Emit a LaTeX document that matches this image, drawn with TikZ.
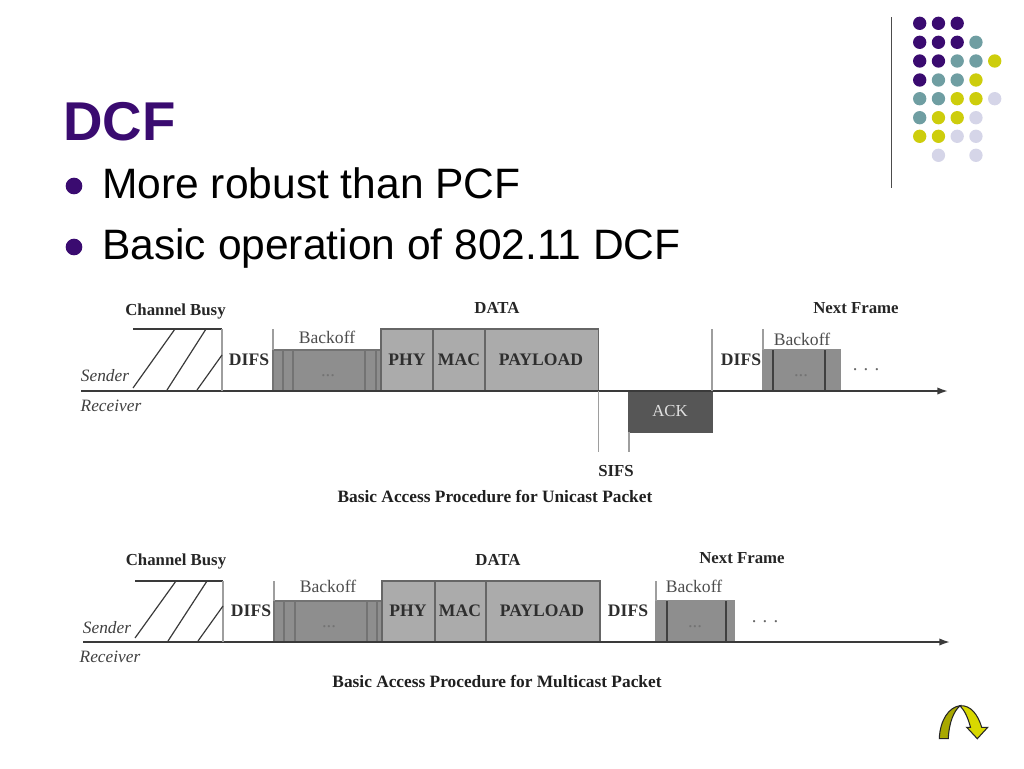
\documentclass[tikz,border=0pt]{standalone}
\usepackage{fontspec}
\setmainfont{Liberation Serif}
\newfontfamily\slidesans{Liberation Sans}
\definecolor{dpurple}{HTML}{3A0B70}
\definecolor{dteal}{HTML}{6F9EA2}
\definecolor{dyellow}{HTML}{CDCD0C}
\definecolor{dlav}{HTML}{D5D5E8}
\definecolor{lightcell}{HTML}{ABABAB}
\definecolor{darkcell}{HTML}{8E8E8E}
\definecolor{ackcell}{HTML}{565656}
\definecolor{inkline}{HTML}{3A3A3A}
\definecolor{iconleft}{HTML}{A8A800}
\definecolor{iconright}{HTML}{D8D800}
\usetikzlibrary{arrows.meta}
\tikzset{
  celltext/.style={font=\bfseries\fontsize{13.2}{15}\selectfont,text=black!82,inner sep=0pt},
  cellbox/.style={draw=#1,rectangle,inner sep=0pt,outer sep=0pt,line width=.8pt,anchor=north west},
  cellbox/.default=black!60,
  lab/.style={inner sep=0pt,text=black!85,font=\bfseries\fontsize{12.6}{15}\selectfont},
  backlab/.style={inner sep=0pt,text=black!70,font=\fontsize{13.2}{15}\selectfont},
  role/.style={inner sep=0pt,text=black!75,font=\itshape\fontsize{13}{15}\selectfont},
  capt/.style={inner sep=0pt,text=black!88,font=\bfseries\fontsize{13}{14}\selectfont},
  dotstext/.style={inner sep=0pt,text=black!55,font=\fontsize{14}{14}\selectfont},
  tickline/.style={draw=black!38,line width=.8pt},
  strongline/.style={draw=inkline,line width=1.2pt},
  hatchline/.style={draw=inkline,line width=.9pt},
  axisline/.style={draw=inkline,line width=1.3pt,-{Latex[length=8pt,width=5.5pt]}},
  bullettext/.style={inner sep=0pt,anchor=base west,text=black,font=\slidesans\fontsize{31.9}{36}\selectfont},
  gdot/.style={circle,fill=#1,draw=none,minimum size=10pt,inner sep=0pt},
  bulletdot/.style={circle,fill=dpurple,minimum size=12.5pt,inner sep=0pt},
}
\newcommand\cellnode[7][black!60]{%
  \node[cellbox=#1,#3,minimum width={(#5-#4)*.75pt},minimum height={(#7-#6)*.75pt}] (#2) at (#4,#6) {};}
\begin{document}
\begin{tikzpicture}[x=.75pt,y=-.75pt]
\useasboundingbox (0,0) rectangle (1024,768);
% decoration
\coordinate (ruleA) at (891.7,17);
\coordinate (ruleB) at (891.7,188);
\draw[draw=black!70,line width=.9pt] (ruleA) -- (ruleB);
\foreach \row/\yy/\list in {
 1/23.3/{1/dpurple,2/dpurple,3/dpurple},
 2/42.3/{1/dpurple,2/dpurple,3/dpurple,4/dteal},
 3/61/{1/dpurple,2/dpurple,3/dteal,4/dteal,5/dyellow},
 4/80/{1/dpurple,2/dteal,3/dteal,4/dyellow},
 5/98.7/{1/dteal,2/dteal,3/dyellow,4/dyellow,5/dlav},
 6/117.7/{1/dteal,2/dyellow,3/dyellow,4/dlav},
 7/136.3/{1/dyellow,2/dyellow,3/dlav,4/dlav},
 8/155.3/{2/dlav,4/dlav}}{
  \foreach \c/\col in \list {
    \node[gdot=\col] (d\row-\c) at ({919.7+(\c-1)*18.75},\yy) {};
  }
}
% title
\node[inner sep=0pt,anchor=base west,text=dpurple,font=\slidesans\bfseries\fontsize{41}{44}\selectfont] (title) at (63,140) {DCF};
\node[bulletdot] (b1) at (74,186) {};
\node[bulletdot] (b2) at (74,247) {};
\node[bullettext] (t1) at (102,198) {More robust than PCF};
\node[bullettext] (t2) at (102,259) {Basic operation of 802.11 DCF};

% ===== unicast diagram =====
\cellnode[black!55]{ub1}{fill=darkcell}{273}{283}{350}{391}
\cellnode[black!55]{ub2}{fill=darkcell}{283}{293}{350}{391}
\cellnode[black!55]{ub3}{fill=darkcell}{293}{365}{350}{391}
\cellnode[black!55]{ub4}{fill=darkcell}{365}{376}{350}{391}
\cellnode[black!55]{ub5}{fill=darkcell}{376}{381}{350}{391}
\cellnode{uphy}{fill=lightcell}{381}{433}{329}{391}
\cellnode{umac}{fill=lightcell}{433}{485}{329}{391}
\cellnode{upay}{fill=lightcell}{485}{598.5}{329}{391}
\cellnode[ackcell]{uack}{fill=ackcell}{629}{712}{391}{432}
\cellnode[darkcell]{un1}{fill=darkcell}{763}{773}{350}{391}
\cellnode[darkcell]{un2}{fill=darkcell}{773}{825}{350}{391}
\cellnode[darkcell]{un3}{fill=darkcell}{825}{840.5}{350}{391}
\draw[black!75,line width=1pt] (un1.north east) -- (un1.south east) (un3.north west) -- (un3.south west);
\coordinate (ua0) at (81,391);
\coordinate (ua1) at (948,391);
\draw[axisline] (ua0) -- (ua1);
\coordinate (ubL) at (133,329); \coordinate (ubR) at (222,329); \coordinate (ubB) at (222,391);
\draw[strongline] (ubL) -- (ubR);
\draw[tickline] (ubR) -- (ubB);
\coordinate (uh1a) at (133,388); \coordinate (uh1b) at (175,329);
\coordinate (uh2a) at (167,390); \coordinate (uh2b) at (206,329);
\coordinate (uh3a) at (197,390); \coordinate (uh3b) at (222,355);
\draw[hatchline] (uh1a) -- (uh1b) (uh2a) -- (uh2b) (uh3a) -- (uh3b);
\coordinate (ut1) at (273,329);
\draw[tickline] (ut1) -- (ub1.north west);
\coordinate (ut2) at (598.5,452);
\draw[tickline] (upay.south east) -- (ut2);
\coordinate (ut3) at (629,452);
\draw[tickline] (uack.south west) -- (ut3);
\coordinate (ut4) at (712,329);
\draw[tickline] (ut4) -- (uack.north east);
\coordinate (ut5) at (763,329);
\draw[tickline] (ut5) -- (un1.north west);
\node[lab] (ucb) at (175.5,311) {Channel Busy};
\node[lab] (udata) at (497,308) {DATA};
\node[lab] (unext) at (856,308) {Next Frame};
\node[backlab] (ubk) at (327,337) {Backoff};
\node[backlab] (ubk2) at (802,339) {Backoff};
\node[celltext] (ud1) at (249,360) {DIFS};
\node[celltext] (ulphy) at (407,360) {PHY};
\node[celltext] (ulmac) at (459,360) {MAC};
\node[celltext] (ulpay) at (541,360) {PAYLOAD};
\node[celltext] (ud2) at (741,360) {DIFS};
\node[inner sep=0pt,text=black!12,font=\fontsize{12.6}{15}\selectfont] (ulack) at (670,411) {ACK};
\node[dotstext] (uo1) at (328,376) {...};
\node[dotstext] (uo2) at (801,376) {...};
\node[dotstext,text=black!60] (uo3) at (866,370) {. . .};
\node[lab] (usifs) at (616,471) {SIFS};
\node[capt] (ucap) at (495,496.5) {Basic Access Procedure for Unicast Packet};
\node[role] (usnd) at (105,376) {Sender};
\node[role] (urcv) at (111,406) {Receiver};

% ===== multicast diagram =====
\cellnode[black!55]{mb1}{fill=darkcell}{274}{284}{601}{642}
\cellnode[black!55]{mb2}{fill=darkcell}{284}{295}{601}{642}
\cellnode[black!55]{mb3}{fill=darkcell}{295}{367}{601}{642}
\cellnode[black!55]{mb4}{fill=darkcell}{367}{377}{601}{642}
\cellnode[black!55]{mb5}{fill=darkcell}{377}{382}{601}{642}
\cellnode{mphy}{fill=lightcell}{382}{435}{581}{642}
\cellnode{mmac}{fill=lightcell}{435}{486}{581}{642}
\cellnode{mpay}{fill=lightcell}{486}{600}{581}{642}
\cellnode[darkcell]{mn1}{fill=darkcell}{656}{667}{601}{642}
\cellnode[darkcell]{mn2}{fill=darkcell}{667}{726}{601}{642}
\cellnode[darkcell]{mn3}{fill=darkcell}{726}{734}{601}{642}
\draw[black!75,line width=1pt] (mn1.north east) -- (mn1.south east) (mn3.north west) -- (mn3.south west);
\coordinate (ma0) at (83,642);
\coordinate (ma1) at (950,642);
\draw[axisline] (ma0) -- (ma1);
\coordinate (mbL) at (135,581); \coordinate (mbR) at (223,581); \coordinate (mbB) at (223,642);
\draw[strongline] (mbL) -- (mbR);
\draw[tickline] (mbR) -- (mbB);
\coordinate (mh1a) at (135,638); \coordinate (mh1b) at (176,581);
\coordinate (mh2a) at (168,641); \coordinate (mh2b) at (207,581);
\coordinate (mh3a) at (198,641); \coordinate (mh3b) at (223,606);
\draw[hatchline] (mh1a) -- (mh1b) (mh2a) -- (mh2b) (mh3a) -- (mh3b);
\coordinate (mt1) at (274,581);
\draw[tickline] (mt1) -- (mb1.north west);
\coordinate (mt2) at (656,581);
\draw[tickline] (mt2) -- (mn1.north west);
\node[lab] (mcb) at (176,561) {Channel Busy};
\node[lab] (mdata) at (498,560) {DATA};
\node[lab] (mnext) at (742,558) {Next Frame};
\node[backlab] (mbk) at (328,586) {Backoff};
\node[backlab] (mbk2) at (694,586) {Backoff};
\node[celltext] (md1) at (251,611) {DIFS};
\node[celltext] (mlphy) at (408,611) {PHY};
\node[celltext] (mlmac) at (460,611) {MAC};
\node[celltext] (mlpay) at (542,611) {PAYLOAD};
\node[celltext] (md2) at (628,611) {DIFS};
\node[dotstext] (mo1) at (329,627) {...};
\node[dotstext] (mo2) at (695,627) {...};
\node[dotstext,text=black!60] (mo3) at (765,622) {. . .};
\node[capt] (mcap) at (497,681.5) {Basic Access Procedure for Multicast Packet};
\node[role] (msnd) at (107,628) {Sender};
\node[role] (mrcv) at (110,657) {Receiver};

% return icon
\filldraw[fill=iconleft,draw=black!85,line width=.8pt]
  (939.3,738.7) .. controls (940,720) and (949,707) .. (960,705.7)
  .. controls (954,711) and (949,722) .. (948.3,738.7) -- cycle;
\filldraw[fill=iconright,draw=black!85,line width=.8pt]
  (960,705.7) .. controls (971,705) and (978,715) .. (981.7,727.3)
  -- (987.7,727.3) -- (977.3,738.7) -- (966.7,727.3) -- (970.5,727.3)
  .. controls (968,718) and (965,711) .. (960,705.7) -- cycle;
\end{tikzpicture}
\end{document}
